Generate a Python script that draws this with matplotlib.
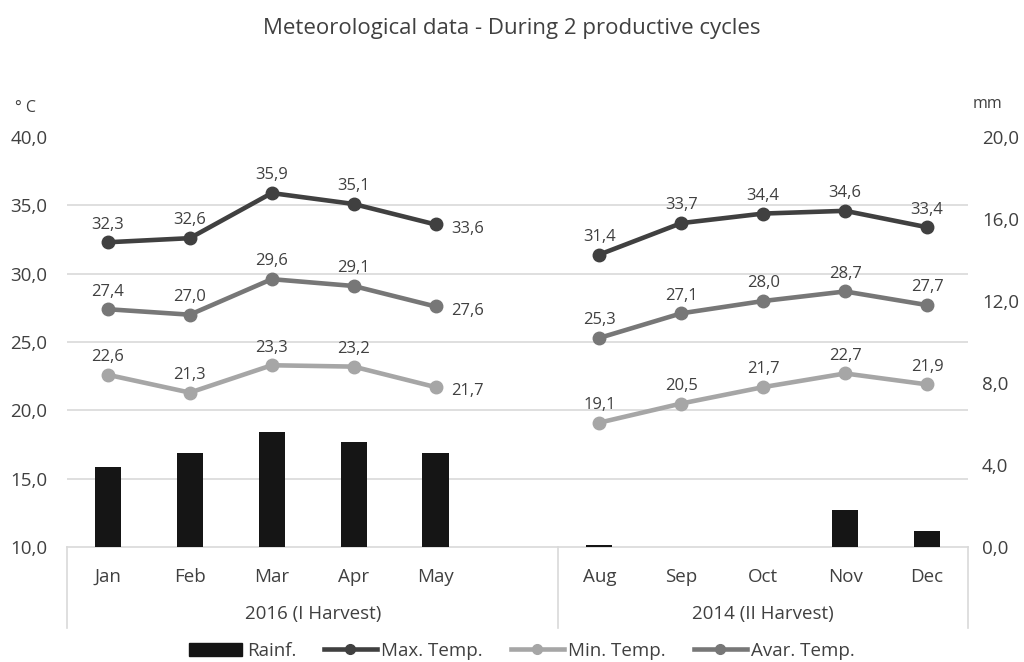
import matplotlib.pyplot as plt
import numpy as np
from matplotlib.ticker import FuncFormatter
from matplotlib.lines import Line2D
from matplotlib.patches import Patch

plt.rcParams['font.family'] = ['Open Sans', 'DejaVu Sans']

months = ['Jan', 'Feb', 'Mar', 'Apr', 'May', '', 'Aug', 'Sep', 'Oct', 'Nov', 'Dec']
groups = ['2016 (I Harvest)', '2014 (II Harvest)']
group_sizes = [6, 5]

rain = [3.9, 4.6, 5.6, 5.1, 4.6, np.nan, 0.1, 0.0, 0.0, 1.8, 0.8]
t_max = [32.3, 32.6, 35.9, 35.1, 33.6, np.nan, 31.4, 33.7, 34.4, 34.6, 33.4]
t_min = [22.6, 21.3, 23.3, 23.2, 21.7, np.nan, 19.1, 20.5, 21.7, 22.7, 21.9]
t_avg = [27.4, 27.0, 29.6, 29.1, 27.6, np.nan, 25.3, 27.1, 28.0, 28.7, 27.7]

c_max = '#404040'
c_min = '#a6a6a6'
c_avg = '#777777'
c_bar = '#151515'
c_txt = '#404040'
c_grid = '#d9d9d9'

x = np.arange(len(months))
comma = FuncFormatter(lambda v, p: f'{v:.1f}'.replace('.', ','))

fig = plt.figure(figsize=(10.24, 6.62), dpi=100)
ax2 = fig.add_axes([0.0654, 0.1737, 0.8799, 0.6193])   # rain, right side
ax = ax2.twinx()                                        # temperature, left side
ax.set_zorder(ax2.get_zorder() + 1)
ax.patch.set_visible(False)

# rain bars on the right axis
ax2.bar(x, rain, width=0.32, color=c_bar, zorder=3)
ax2.set_ylim(0, 20)
ax2.set_yticks(np.arange(0, 21, 4))
ax2.yaxis.tick_right()
ax2.yaxis.set_major_formatter(comma)
ax2.tick_params(axis='y', length=0, pad=10, labelsize=13.5, labelcolor=c_txt)
# gridlines follow the temperature scale
temp_grid = np.arange(10, 41, 5)
ax2.set_yticks((temp_grid - 10) / 30 * 20, minor=True)
ax2.tick_params(axis='y', which='minor', length=0)
ax2.grid(axis='y', which='minor', color=c_grid, lw=1.2, zorder=0)
ax2.set_axisbelow(True)

# temperature lines on the left axis
for vals, col in [(t_max, c_max), (t_avg, c_avg), (t_min, c_min)]:
    ax.plot(x, vals, color=col, lw=3.3, marker='o', ms=9, zorder=4)
    for i, v in enumerate(vals):
        if np.isnan(v):
            continue
        lab = f'{v:.1f}'.replace('.', ',')
        if i == 4:
            ax.annotate(lab, (x[i], v), xytext=(11, -3), textcoords='offset points',
                        ha='left', va='center', fontsize=12, color=c_txt)
        else:
            ax.annotate(lab, (x[i], v), xytext=(0, 7), textcoords='offset points',
                        ha='center', va='bottom', fontsize=12, color=c_txt)
ax.set_ylim(10, 40)
ax.set_yticks(temp_grid)
ax.yaxis.tick_left()
ax.yaxis.set_major_formatter(comma)
ax.tick_params(axis='y', length=0, pad=14, labelsize=13.5, labelcolor=c_txt)

for a in (ax, ax2):
    for s in a.spines.values():
        s.set_visible(False)
ax2.spines['bottom'].set_visible(True)
ax2.spines['bottom'].set_color(c_grid)
ax2.spines['bottom'].set_linewidth(1.2)

ax2.set_xlim(-0.5, len(months) - 0.5)
ax2.set_xticks(x)
ax2.set_xticklabels(months)
ax2.tick_params(axis='x', length=0, pad=15, labelsize=13.5, labelcolor=c_txt)
ax.set_xlim(-0.5, len(months) - 0.5)

# group labels and separators under the axis
trans = ax2.get_xaxis_transform()
edges = np.concatenate([[0], np.cumsum(group_sizes)]) - 0.5
for e in edges:
    ax2.plot([e, e], [0, -0.197], transform=trans, color=c_grid, lw=1.2, clip_on=False)
for g, lo, hi in zip(groups, edges[:-1], edges[1:]):
    ax2.text((lo + hi) / 2, -0.163, g, transform=trans, ha='center', va='center',
             fontsize=13.5, color=c_txt)

fig.text(0.5, 0.957, 'Meteorological data - During 2 productive cycles', ha='center',
         va='center', fontsize=16, color=c_txt)
fig.text(0.015, 0.837, '° C', ha='left', va='center', fontsize=11.5, color=c_txt)
fig.text(0.95, 0.843, 'mm', ha='left', va='center', fontsize=11.5, color=c_txt)

handles = [Patch(color=c_bar),
           Line2D([], [], color=c_max, lw=3.3, marker='o', ms=7),
           Line2D([], [], color=c_min, lw=3.3, marker='o', ms=7),
           Line2D([], [], color=c_avg, lw=3.3, marker='o', ms=7)]
fig.legend(handles, ['Rainf.', 'Max. Temp.', 'Min. Temp.', 'Avar. Temp.'],
           loc='center', bbox_to_anchor=(0.51, 0.017), ncol=4, frameon=False,
           fontsize=13.5, handlelength=2.8, handletextpad=0.25, columnspacing=1.5,
           labelcolor=c_txt)

fig.savefig('out.png', dpi=100)
